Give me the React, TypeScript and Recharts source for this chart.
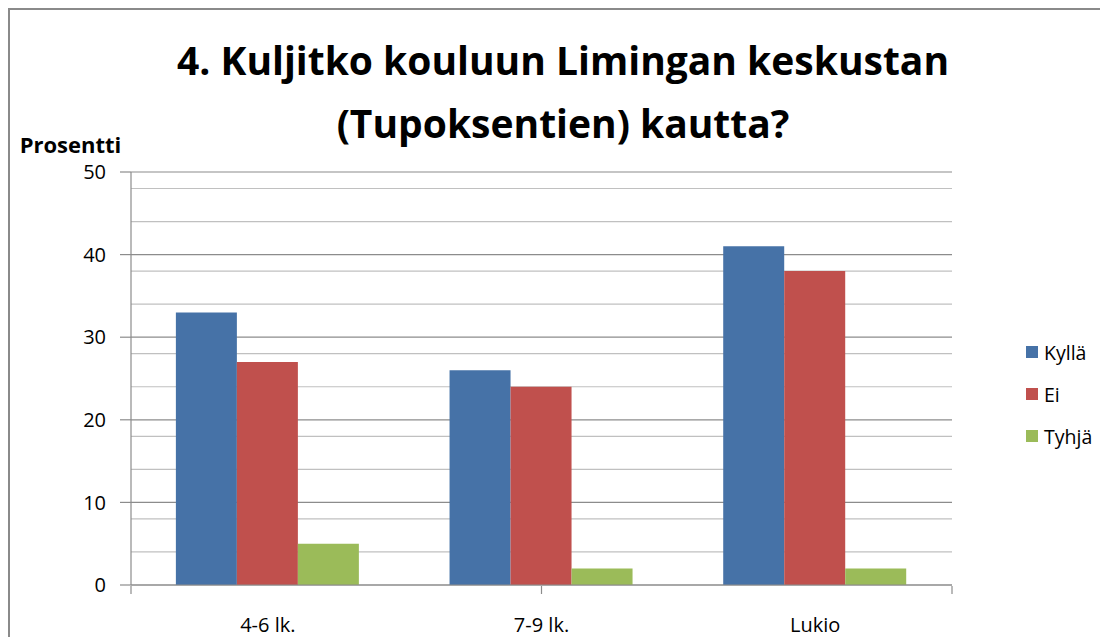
import { BarChart, Bar, XAxis, YAxis, CartesianGrid, Legend } from "recharts";

const categories = ["4-6 lk.", "7-9 lk.", "Lukio"];
const kylla = [33, 26, 41];
const ei = [27, 24, 38];
const tyhja = [5, 2, 2];
const seriesNames = ["Kyllä", "Ei", "Tyhjä"];

const majorTicks = [0, 10, 20, 30, 40, 50];
const minorTicks = [2, 4, 6, 8, 12, 14, 16, 18, 22, 24, 26, 28, 32, 34, 36, 38, 42, 44, 46, 48];
const categoryEdges = [0, 1, 2, 3];

const data = categories.map((name, i) => ({
  name,
  kylla: kylla[i],
  ei: ei[i],
  tyhja: tyhja[i],
}));

const FONT = "'Open Sans', sans-serif";

function LegendBox({ payload }: any) {
  const items = [...(payload || [])].sort(
    (a: any, b: any) => seriesNames.indexOf(a.value) - seriesNames.indexOf(b.value)
  );
  return (
    <div style={{ fontFamily: FONT, fontSize: 19.5, color: "#000" }}>
      {items.map((p: any) => (
        <div key={p.value} style={{ display: "flex", alignItems: "center", height: 42 }}>
          <span style={{ width: 12, height: 12, background: p.color, marginRight: 6, display: "inline-block" }} />
          <span>{p.value}</span>
        </div>
      ))}
    </div>
  );
}

export default function App() {
  return (
    <div
      style={{
        position: "relative",
        width: 1096,
        height: 640,
        border: "2px solid #8a8a8a",
        boxSizing: "border-box",
        background: "#fff",
      }}
    >
      <div
        style={{
          position: "absolute",
          top: 18,
          left: 7,
          width: "100%",
          textAlign: "center",
          fontFamily: FONT,
          fontWeight: 700,
          fontSize: 39,
          lineHeight: "63px",
          color: "#000",
        }}
      >
        4. Kuljitko kouluun Limingan keskustan
        <br />
        (Tupoksentien) kautta?
      </div>
      <BarChart
        width={1092}
        height={636}
        data={data}
        margin={{ top: 162, right: 150, bottom: 59, left: 0 }}
        barCategoryGap="16.4%"
        barGap={0}
        style={{ fontFamily: FONT }}
      >
        <CartesianGrid vertical={false} horizontalValues={minorTicks} stroke="#c0c0c0" strokeWidth={1.2} />
        <CartesianGrid vertical={false} horizontalValues={majorTicks} stroke="#8c8c8c" strokeWidth={1.2} />
        <XAxis
          xAxisId="edges"
          type="number"
          domain={[0, 3]}
          ticks={categoryEdges}
          tickFormatter={() => ""}
          axisLine={false}
          tickSize={8}
          tickLine={{ stroke: "#8c8c8c", strokeWidth: 1.2 }}
          height={1}
        />
        <XAxis
          dataKey="name"
          height={1}
          axisLine={{ stroke: "#8c8c8c", strokeWidth: 1.2 }}
          tickLine={false}
          tickMargin={27}
          tick={{ fill: "#000", fontSize: 20 }}
        />
        <YAxis
          width={121}
          domain={[0, 50]}
          ticks={majorTicks}
          tickSize={11}
          tickMargin={14}
          axisLine={{ stroke: "#8c8c8c", strokeWidth: 1.2 }}
          tickLine={{ stroke: "#8c8c8c", strokeWidth: 1.2 }}
          tick={{ fill: "#000", fontSize: 20 }}
          label={{ value: "Prosentti", position: "top", offset: 19, fill: "#000", fontSize: 22, fontWeight: 700 }}
        />
        <Legend
          layout="vertical"
          align="center"
          verticalAlign="middle"
          content={<LegendBox />}
          wrapperStyle={{ left: 1016, top: 321, width: 80 }}
        />
        <Bar dataKey="kylla" name="Kyllä" fill="#4672A7" isAnimationActive={false} />
        <Bar dataKey="ei" name="Ei" fill="#C0504D" isAnimationActive={false} />
        <Bar dataKey="tyhja" name="Tyhjä" fill="#9BBB59" isAnimationActive={false} />
      </BarChart>
    </div>
  );
}
